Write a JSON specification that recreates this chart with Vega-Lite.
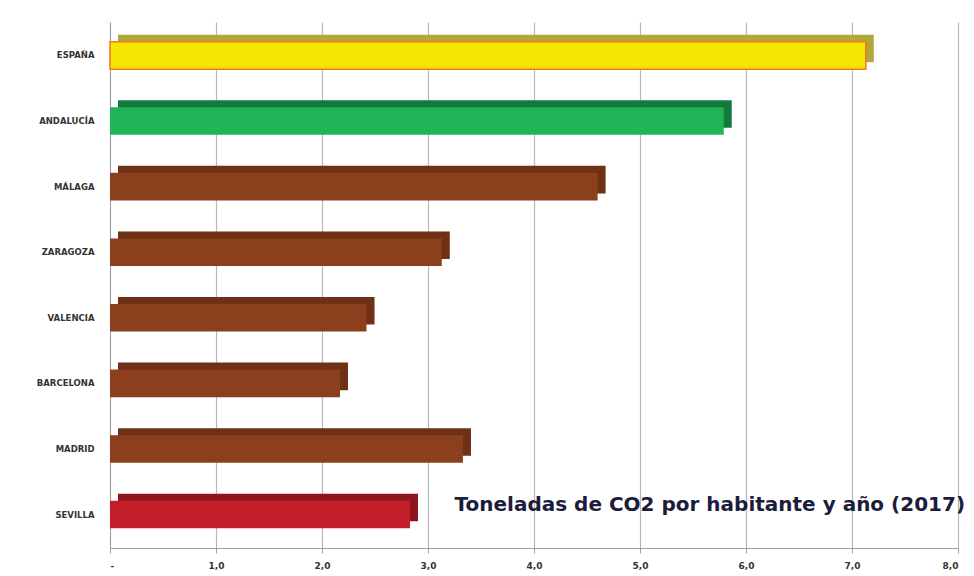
{
  "$schema": "https://vega.github.io/schema/vega-lite/v6.json",
  "width": 848,
  "height": 526,
  "autosize": {"type": "none"},
  "padding": {"left": 110, "top": 22, "right": 16, "bottom": 28},
  "background": "white",
  "config": {"view": {"stroke": null}},
  "data": {
    "values": [
      {"lugar": "ESPAÑA", "co2": 7.13},
      {"lugar": "ANDALUCÍA", "co2": 5.79},
      {"lugar": "MÁLAGA", "co2": 4.6},
      {"lugar": "ZARAGOZA", "co2": 3.13},
      {"lugar": "VALENCIA", "co2": 2.42},
      {"lugar": "BARCELONA", "co2": 2.17},
      {"lugar": "MADRID", "co2": 3.33},
      {"lugar": "SEVILLA", "co2": 2.83}
    ]
  },
  "encoding": {
    "y": {
      "field": "lugar",
      "type": "nominal",
      "sort": null,
      "scale": {"paddingInner": 0.58, "paddingOuter": 0.3},
      "axis": {
        "title": null,
        "ticks": false,
        "domain": true,
        "domainColor": "#a0a0a0",
        "labelFont": "DejaVu Sans",
        "labelFontSize": 8.5,
        "labelFontWeight": "bold",
        "labelColor": "#333333",
        "labelPadding": 16
      }
    },
    "x": {
      "field": "co2",
      "type": "quantitative",
      "scale": {"domain": [0, 8], "nice": false},
      "axis": {
        "title": null,
        "values": [0, 1, 2, 3, 4, 5, 6, 7, 8],
        "labelExpr": "datum.value == 0 ? '-' : replace(format(datum.value, '.1f'), '.', ',')",
        "grid": true,
        "gridColor": "#b8b8b8",
        "gridWidth": 1.2,
        "domainColor": "#a0a0a0",
        "tickColor": "#a0a0a0",
        "tickSize": 5,
        "labelFont": "DejaVu Sans",
        "labelFontSize": 9,
        "labelFontWeight": "bold",
        "labelColor": "#333333",
        "labelPadding": 8,
        "labelDx": -10
      }
    }
  },
  "layer": [
    {
      "mark": {"type": "bar", "xOffset": 8, "yOffset": -7},
      "encoding": {
        "color": {
          "field": "lugar",
          "type": "nominal",
          "legend": null,
          "scale": {
            "domain": ["ESPAÑA", "ANDALUCÍA", "MÁLAGA", "ZARAGOZA", "VALENCIA", "BARCELONA", "MADRID", "SEVILLA"],
            "range": ["#b0a83c", "#137a3e", "#6e3115", "#6e3115", "#6e3115", "#6e3115", "#6e3115", "#8e141e"]
          }
        }
      }
    },
    {
      "mark": {"type": "bar", "strokeWidth": 1.5},
      "encoding": {
        "color": {
          "field": "lugar",
          "type": "nominal",
          "legend": null,
          "scale": {
            "domain": ["ESPAÑA", "ANDALUCÍA", "MÁLAGA", "ZARAGOZA", "VALENCIA", "BARCELONA", "MADRID", "SEVILLA"],
            "range": ["#f6e500", "#1fb556", "#8c3f1c", "#8c3f1c", "#8c3f1c", "#8c3f1c", "#8c3f1c", "#c21f2b"]
          }
        },
        "stroke": {
          "condition": {"test": "datum.lugar === 'ESPAÑA'", "value": "#f07a20"},
          "value": null
        }
      }
    },
    {
      "transform": [{"filter": "datum.lugar === 'SEVILLA'"}],
      "mark": {
        "type": "text",
        "align": "left",
        "baseline": "middle",
        "font": "DejaVu Sans",
        "fontSize": 20,
        "fontWeight": "bold",
        "fill": "#1c1c3c",
        "dy": -10
      },
      "encoding": {
        "x": {"datum": 3.25},
        "text": {"value": "Toneladas de CO2 por habitante y año (2017)"}
      }
    }
  ],
  "resolve": {"scale": {"color": "independent"}}
}
